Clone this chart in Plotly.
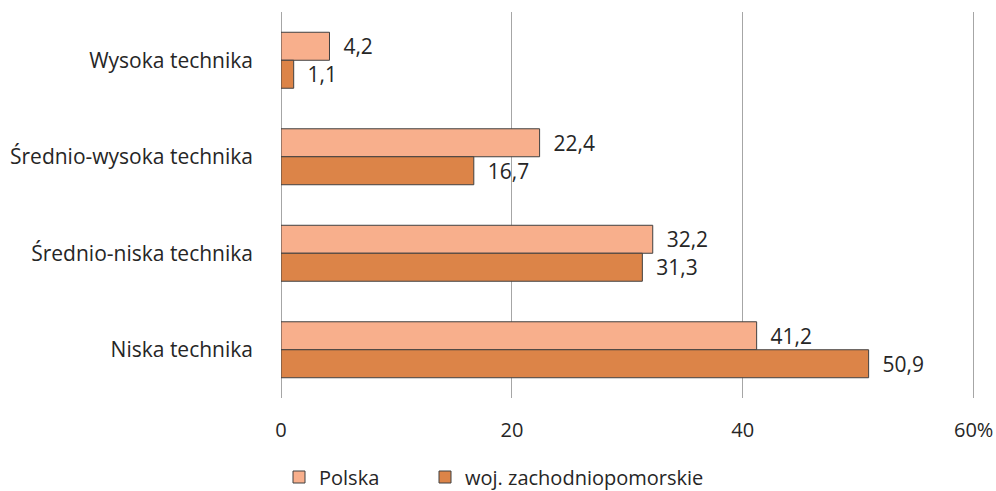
import plotly.graph_objects as go

categories = ["Wysoka technika", "Średnio-wysoka technika", "Średnio-niska technika", "Niska technika"]
polska = [4.2, 22.4, 32.2, 41.2]
zachodniopomorskie = [1.1, 16.7, 31.3, 50.9]
tick_vals = [0, 20, 40, 60]
tick_text = ["0", "20", "40", "60%"]

def fmt(v):
    return "  " + f"{v:.1f}".replace(".", ",")

font_family = "Open Sans, Liberation Sans, sans-serif"
text_color = "#262626"
fs = 21

fig = go.Figure()
fig.add_trace(go.Bar(
    y=categories, x=polska, orientation="h", name="Polska", legend="legend",
    marker=dict(color="#F8AF8C", line=dict(color="#404040", width=1)),
    text=[fmt(v) for v in polska], textposition="outside", cliponaxis=False,
    textfont=dict(size=fs, color=text_color, family=font_family),
))
fig.add_trace(go.Bar(
    y=categories, x=zachodniopomorskie, orientation="h", name="woj. zachodniopomorskie",
    legend="legend2",
    marker=dict(color="#DC8448", line=dict(color="#404040", width=1)),
    text=[fmt(v) for v in zachodniopomorskie], textposition="outside", cliponaxis=False,
    textfont=dict(size=fs, color=text_color, family=font_family),
))

W, H = 996, 491
leg_common = dict(orientation="h", xref="container", xanchor="left",
                  yref="container", y=1 - 477 / H, yanchor="middle",
                  font=dict(size=fs - 1, color=text_color), itemwidth=30,
                  bgcolor="rgba(0,0,0,0)")

fig.update_layout(
    width=W, height=H,
    margin=dict(l=281, r=20, t=12, b=93),
    barmode="group", bargap=0.42, bargroupgap=0,
    paper_bgcolor="white", plot_bgcolor="white",
    font=dict(family=font_family, size=fs, color=text_color),
    showlegend=True,
    legend=dict(x=279 / W, **leg_common),
    legend2=dict(x=425 / W, **leg_common),
)
fig.update_xaxes(range=[0, 60.2], tickvals=tick_vals, ticktext=tick_text,
                 automargin=False,
                 showgrid=True, gridcolor="#A6A6A6", gridwidth=1,
                 zeroline=True, zerolinecolor="#A6A6A6", zerolinewidth=1,
                 showline=False, ticks="", ticklen=0, ticklabelstandoff=18,
                 tickfont=dict(size=fs - 1, color=text_color))
fig.update_yaxes(autorange="reversed", showgrid=False, ticks="", showline=False,
                 automargin=False, ticklabelstandoff=27,
                 tickfont=dict(size=fs, color=text_color))

# remove the default page margin so the 996x491 figure fills the window exactly
fig.write_html("out.html", config={"displayModeBar": False},
               post_script="document.body.style.margin='0';document.body.style.overflow='hidden';")
